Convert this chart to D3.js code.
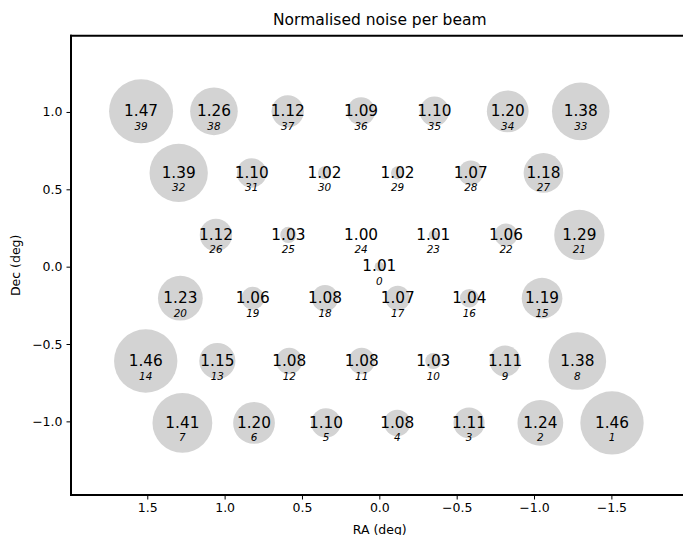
<!DOCTYPE html>
<html>
<head>
<meta charset="utf-8">
<script src="https://cdn.jsdelivr.net/npm/d3@7"></script>
<style>
  html, body { margin: 0; padding: 0; background: #fff; overflow: hidden; }
  svg { display: block; font-family: "DejaVu Sans", sans-serif; overflow: hidden; }
</style>
</head>
<body>
<svg id="chart" width="683" height="535"></svg>
<script>
// ---- data ----
const beams = [0,1,2,3,4,5,6,7,8,9,10,11,12,13,14,15,16,17,18,19,20,21,22,23,24,25,26,27,28,29,30,31,32,33,34,35,36,37,38,39];
const raDeg = [0.000,
  -1.504,-1.041,-0.580,-0.116,0.345,0.810,1.273,
  -1.280,-0.813,-0.349,0.114,0.582,1.047,1.510,
  -1.052,-0.582,-0.119,0.351,0.818,1.286,
  -1.293,-0.819,-0.349,0.118,0.588,1.056,
  -1.061,-0.591,-0.118,0.354,0.825,1.297,
  -1.302,-0.830,-0.356,0.118,0.592,1.069,1.540];
const decDeg = [0.000,
  -1.010,-1.010,-1.010,-1.010,-1.010,-1.010,-1.010,
  -0.610,-0.610,-0.610,-0.610,-0.610,-0.610,-0.610,
  -0.204,-0.204,-0.204,-0.204,-0.204,-0.204,
  0.205,0.205,0.205,0.205,0.205,0.205,
  0.606,0.606,0.606,0.606,0.606,0.606,
  1.004,1.004,1.004,1.004,1.004,1.004,1.004];
const noise = [1.01,
  1.46,1.24,1.11,1.08,1.10,1.20,1.41,
  1.38,1.11,1.03,1.08,1.08,1.15,1.46,
  1.19,1.04,1.07,1.08,1.06,1.23,
  1.29,1.06,1.01,1.00,1.03,1.12,
  1.18,1.07,1.02,1.02,1.10,1.39,
  1.38,1.20,1.10,1.09,1.12,1.26,1.47];
const xTicks = [1.5, 1.0, 0.5, 0.0, -0.5, -1.0, -1.5];
const yTicks = [1.0, 0.5, 0.0, -0.5, -1.0];
const titleText = "Normalised noise per beam";
const xLabel = "RA (deg)";
const yLabel = "Dec (deg)";

// ---- layout ----
const svg = d3.select("#chart");
const L = 71, R = 688.5, T = 35.7, B = 495;
const x = d3.scaleLinear().domain([1.993, -1.9985]).range([L, R]);
const y = d3.scaleLinear().domain([1.493, -1.476]).range([T, B]);
const r = d3.scaleSqrt().domain([0, 1]).range([0, 46.7]);
const fmt = d => d3.format(".1f")(d).replace("-", "\u2212");

const data = beams.map((b, i) => ({ b, ra: raDeg[i], dec: decDeg[i], v: noise[i] }));

// circles
svg.append("g").selectAll("circle").data(data).join("circle")
  .attr("cx", d => x(d.ra))
  .attr("cy", d => y(d.dec))
  .attr("r", d => r(Math.max(0, d.v - 1)))
  .attr("fill", "#d3d3d3");

// value labels
svg.append("g").selectAll("text").data(data).join("text")
  .attr("x", d => x(d.ra))
  .attr("y", d => y(d.dec) + 4.6)
  .attr("text-anchor", "middle")
  .attr("font-size", "15.3px")
  .attr("fill", "#000")
  .text(d => d3.format(".2f")(d.v));

// beam index labels
svg.append("g").selectAll("text").data(data).join("text")
  .attr("x", d => x(d.ra))
  .attr("y", d => y(d.dec) + 18.5)
  .attr("text-anchor", "middle")
  .attr("font-size", "10.4px")
  .attr("font-style", "italic")
  .attr("fill", "#000")
  .text(d => d.b);

// axes
const xAxis = svg.append("g").attr("transform", `translate(0,${B})`)
  .call(d3.axisBottom(x).tickValues(xTicks).tickFormat(fmt).tickSize(4.5).tickPadding(4).tickSizeOuter(0));
const yAxis = svg.append("g").attr("transform", `translate(${L},0)`)
  .call(d3.axisLeft(y).tickValues(yTicks).tickFormat(fmt).tickSize(4.5).tickPadding(4).tickSizeOuter(0));
[xAxis, yAxis].forEach(g => {
  g.select(".domain").remove();
  g.selectAll(".tick line").attr("stroke", "#000").attr("stroke-width", 1);
  g.selectAll(".tick text").attr("font-size", "12.5px").attr("font-family", "DejaVu Sans").attr("fill", "#000");
});

// frame (right spine falls outside the visible area)
const frame = svg.append("g").attr("stroke", "#000").attr("stroke-width", 2).attr("stroke-linecap", "square");
frame.append("line").attr("x1", L).attr("x2", R).attr("y1", T).attr("y2", T);
frame.append("line").attr("x1", L).attr("x2", R).attr("y1", B).attr("y2", B);
frame.append("line").attr("x1", L).attr("x2", L).attr("y1", T).attr("y2", B);

// title & labels
svg.append("text").attr("x", (L + R) / 2).attr("y", 25)
  .attr("text-anchor", "middle").attr("font-size", "15.5px").attr("fill", "#000").text(titleText);
svg.append("text").attr("x", (L + R) / 2).attr("y", 533.5)
  .attr("text-anchor", "middle").attr("font-size", "12.5px").attr("fill", "#000").text(xLabel);
svg.append("text").attr("transform", `translate(20,${(T + B) / 2}) rotate(-90)`)
  .attr("text-anchor", "middle").attr("font-size", "12.5px").attr("fill", "#000").text(yLabel);
</script>
</body>
</html>
